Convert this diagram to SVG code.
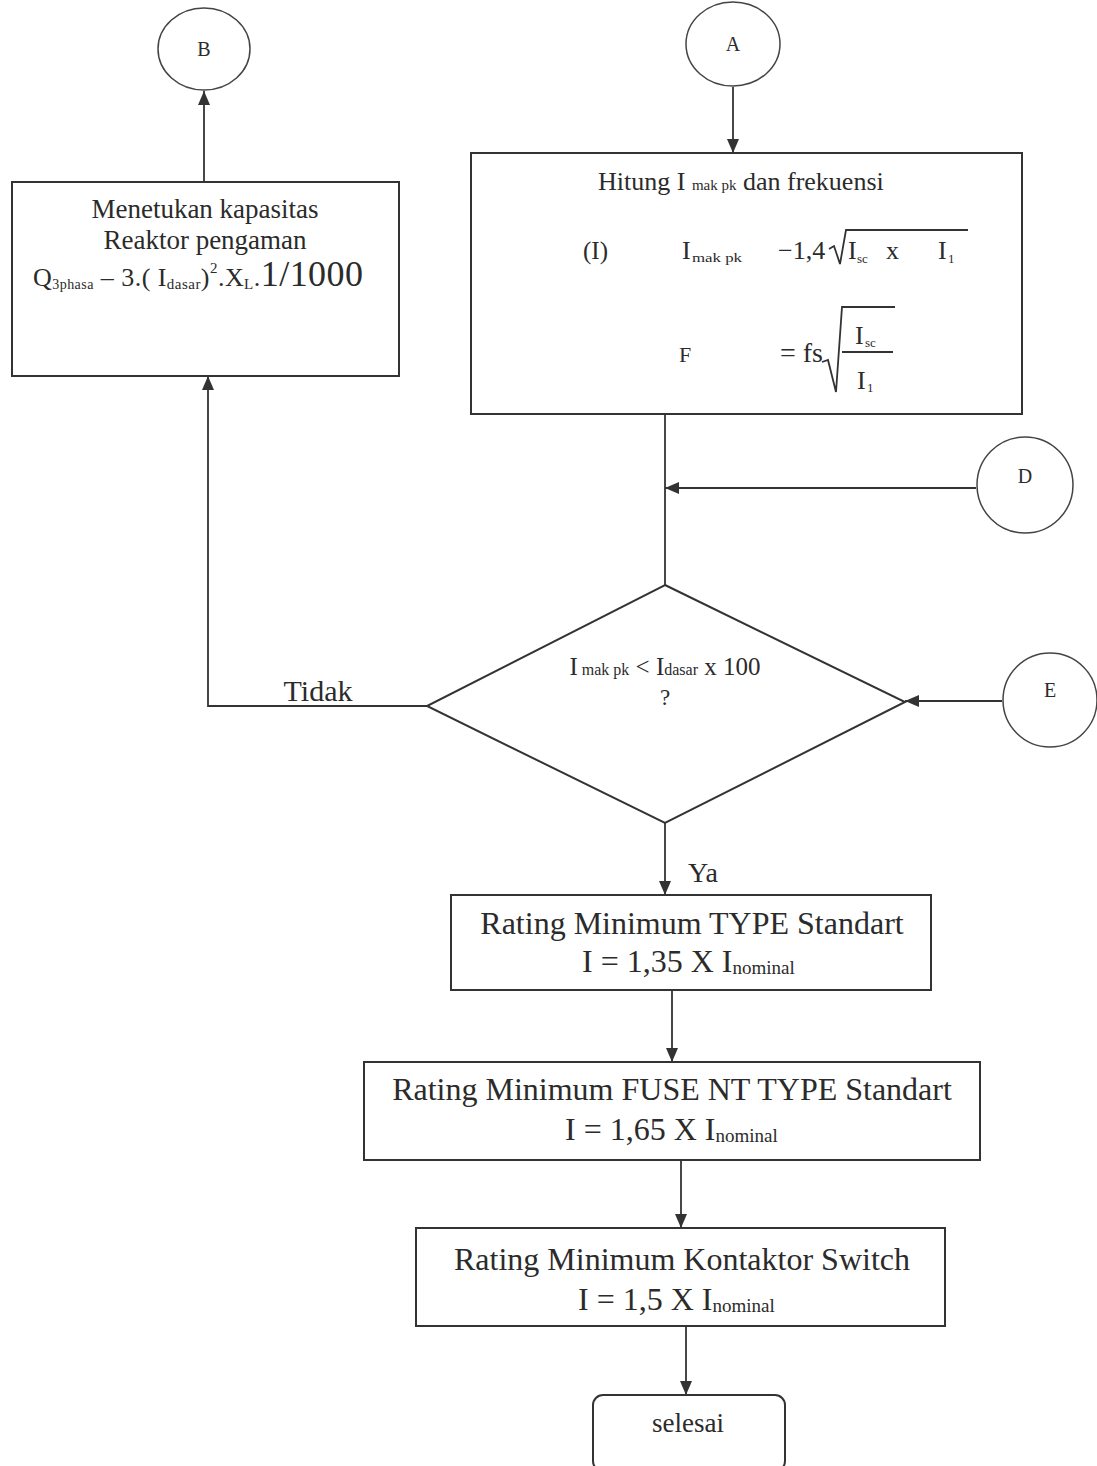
<svg xmlns="http://www.w3.org/2000/svg" width="1097" height="1466" viewBox="0 0 1097 1466">
<style>
text{font-family:"Liberation Serif","Times New Roman",serif;fill:#2b2b2b}
.box{fill:#fff;stroke:#333;stroke-width:2}
.circ{fill:#fff;stroke:#444;stroke-width:1.5}
.ln{fill:none;stroke:#333;stroke-width:1.8}
.c{text-anchor:middle}
</style>
<defs>
<marker id="ah" markerUnits="userSpaceOnUse" markerWidth="14" markerHeight="12" refX="14" refY="6" orient="auto"><path d="M0,0 L14,6 L0,12 z" fill="#333"/></marker>
</defs>
<rect width="1097" height="1466" fill="#fff"/>
<g id="connectors">
<line class="ln" x1="733" y1="87" x2="733" y2="153" marker-end="url(#ah)"/>
<line class="ln" x1="665" y1="414" x2="665" y2="585"/>
<line class="ln" x1="976" y1="488" x2="665" y2="488" marker-end="url(#ah)"/>
<line class="ln" x1="1002" y1="701" x2="905" y2="701" marker-end="url(#ah)"/>
<path class="ln" d="M427,706 H208 V376" marker-end="url(#ah)"/>
<line class="ln" x1="204" y1="182" x2="204" y2="91" marker-end="url(#ah)"/>
<line class="ln" x1="665" y1="823" x2="665" y2="895" marker-end="url(#ah)"/>
<line class="ln" x1="672" y1="990" x2="672" y2="1062" marker-end="url(#ah)"/>
<line class="ln" x1="681" y1="1160" x2="681" y2="1228" marker-end="url(#ah)"/>
<line class="ln" x1="686" y1="1326" x2="686" y2="1395" marker-end="url(#ah)"/>
<text x="318" y="701" class="c" font-size="30">Tidak</text>
<text x="703" y="882" class="c" font-size="28">Ya</text>
</g>
<g id="B">
<ellipse class="circ" cx="204" cy="49" rx="46" ry="41"/>
<text x="204" y="56" class="c" font-size="20">B</text>
</g>
<g id="A">
<ellipse class="circ" cx="733" cy="44" rx="47" ry="42"/>
<text x="733" y="51" class="c" font-size="20">A</text>
</g>
<g id="D">
<circle class="circ" cx="1025" cy="485" r="48"/>
<text x="1025" y="483" class="c" font-size="20">D</text>
</g>
<g id="E">
<circle class="circ" cx="1050" cy="700" r="47"/>
<text x="1050" y="697" class="c" font-size="20">E</text>
</g>
<g id="reaktor">
<rect class="box" x="12" y="182" width="387" height="194"/>
<text x="205" y="218" class="c" font-size="27">Menetukan kapasitas</text>
<text x="205" y="249" class="c" font-size="27">Reaktor pengaman</text>
<text x="33" y="286" font-size="26" textLength="330" lengthAdjust="spacing">Q<tspan font-size="14" dy="3">3phasa</tspan><tspan dy="-3"> – 3.( I</tspan><tspan font-size="15" dy="3">dasar</tspan><tspan dy="-3">)</tspan><tspan font-size="15" dy="-13">2</tspan><tspan dy="13">.X</tspan><tspan font-size="15" dy="3">L</tspan><tspan dy="-3">.</tspan><tspan font-size="36">1/1000</tspan></text>
</g>
<g id="hitung">
<rect class="box" x="471" y="153" width="551" height="261"/>
<text x="598" y="190" font-size="26">Hitung I <tspan font-size="15">mak pk</tspan> dan frekuensi</text>
<text x="583" y="259" font-size="25">(I)</text>
<text x="682" y="259" font-size="26">I</text>
<text x="692" y="262" font-size="13" textLength="50" lengthAdjust="spacingAndGlyphs">mak pk</text>
<text x="778" y="259" font-size="26">−1,4</text>
<path class="ln" stroke-width="1.4" d="M829,249 L834,246 L840,264 L846,230 H968"/>
<text x="848" y="259" font-size="26">I</text>
<text x="857" y="263" font-size="13">sc</text>
<text x="886" y="259" font-size="26">x</text>
<text x="938" y="259" font-size="26">I</text>
<text x="948" y="263" font-size="13">1</text>
<text x="679" y="362" font-size="22">F</text>
<text x="780" y="362" font-size="28">= fs</text>
<path class="ln" stroke-width="1.4" d="M822,362 L828,360 L836,392 L842,307 H895"/>
<line class="ln" stroke-width="1.4" x1="842" y1="352" x2="893" y2="352"/>
<text x="855" y="344" font-size="26">I</text>
<text x="865" y="347" font-size="13">sc</text>
<text x="857" y="389" font-size="26">I</text>
<text x="867" y="392" font-size="13">1</text>
</g>
<g id="decision">
<polygon class="box" stroke-width="1.8" points="665,585 905,702 665,823 427,706"/>
<text x="665" y="675" class="c" font-size="25">I<tspan font-size="16"> mak pk</tspan> &lt; I<tspan font-size="16">dasar</tspan> x 100</text>
<text x="665" y="705" class="c" font-size="23">?</text>
</g>
<g id="type-standart">
<rect class="box" x="451" y="895" width="480" height="95"/>
<text x="692" y="934" class="c" font-size="32">Rating Minimum TYPE Standart</text>
<text x="582" y="972" font-size="32">I = 1,35 X I<tspan font-size="19" dy="2">nominal</tspan></text>
</g>
<g id="fuse-nt">
<rect class="box" x="364" y="1062" width="616" height="98"/>
<text x="672" y="1100" class="c" font-size="32">Rating Minimum FUSE NT TYPE Standart</text>
<text x="565" y="1140" font-size="32">I = 1,65 X I<tspan font-size="19" dy="2">nominal</tspan></text>
</g>
<g id="kontaktor">
<rect class="box" x="416" y="1228" width="529" height="98"/>
<text x="682" y="1270" class="c" font-size="32">Rating Minimum Kontaktor Switch</text>
<text x="578" y="1310" font-size="32">I = 1,5 X I<tspan font-size="19" dy="2">nominal</tspan></text>
</g>
<g id="selesai">
<rect class="box" x="593" y="1395" width="192" height="76" rx="10"/>
<text x="688" y="1432" class="c" font-size="27">selesai</text>
</g>
</svg>
